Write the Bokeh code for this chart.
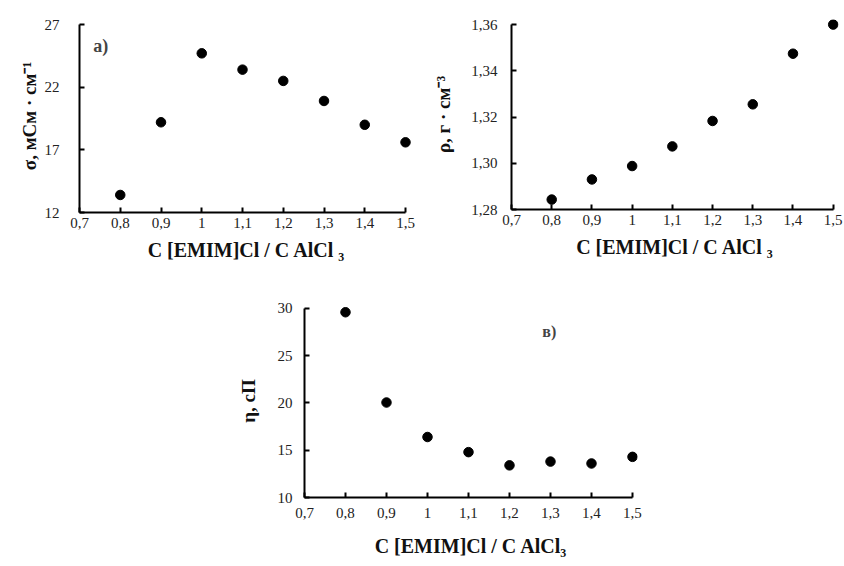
from bokeh.plotting import figure
from bokeh.models import Range1d, FixedTicker, Label, Spacer
from bokeh.layouts import row, column
from bokeh.embed import file_html
from bokeh.resources import INLINE

# ---- data ----
ratio = [0.8, 0.9, 1.0, 1.1, 1.2, 1.3, 1.4, 1.5]
sigma = [13.4, 19.2, 24.7, 23.4, 22.5, 20.9, 19.0, 17.6]
rho = [1.2843, 1.2930, 1.2988, 1.3073, 1.3183, 1.3255, 1.3474, 1.3600]
eta = [29.6, 20.05, 16.4, 14.8, 13.4, 13.8, 13.6, 14.3]

x_ticks = [0.7, 0.8, 0.9, 1.0, 1.1, 1.2, 1.3, 1.4, 1.5]
x_tick_labels = ["0,7", "0,8", "0,9", "1", "1,1", "1,2", "1,3", "1,4", "1,5"]
sigma_ticks = [12, 17, 22, 27]
sigma_tick_labels = ["12", "17", "22", "27"]
rho_ticks = [1.28, 1.30, 1.32, 1.34, 1.36]
rho_tick_labels = ["1,28", "1,30", "1,32", "1,34", "1,36"]
eta_ticks = [10, 15, 20, 25, 30]
eta_tick_labels = ["10", "15", "20", "25", "30"]

FONT = "Liberation Serif"


def make_fig(xr, yr, fw, fh, bl, bt, br, bb):
    p = figure(x_range=xr, y_range=yr, frame_width=fw, frame_height=fh,
               min_border_left=bl, min_border_top=bt, min_border_right=br,
               min_border_bottom=bb, output_backend="svg", toolbar_location=None)
    p.outline_line_color = None
    p.grid.visible = False
    p.background_fill_color = "white"
    p.border_fill_color = "white"
    for ax in (p.xaxis[0], p.yaxis[0]):
        ax.axis_line_width = 2
        ax.axis_line_color = "black"
        ax.major_tick_in = 5
        ax.major_tick_out = 0
        ax.major_tick_line_width = 2
        ax.major_tick_line_color = "black"
        ax.minor_tick_line_color = None
        ax.major_label_text_font = FONT
        ax.major_label_text_font_size = "15px"
        ax.major_label_text_color = "#222222"
        ax.axis_label_text_font = FONT
        ax.axis_label_text_font_style = "bold"
        ax.axis_label_text_color = "#111111"
    p.xaxis.axis_label_text_font_size = "20px"
    p.yaxis.axis_label_text_font_size = "19px"
    p.xaxis.ticker = FixedTicker(ticks=x_ticks)
    p.xaxis.major_label_overrides = dict(zip(x_ticks, x_tick_labels))
    p.xaxis.bounds = (x_ticks[0], x_ticks[-1])
    return p


# a) conductivity
p1 = make_fig(Range1d(0.7, 1.5196), Range1d(12, 27.4), 334, 193, 79, 16, 17, 71)
p1.scatter(ratio, sigma, size=9.5, color="black")
p1.yaxis.ticker = FixedTicker(ticks=sigma_ticks)
p1.yaxis.major_label_overrides = dict(zip(sigma_ticks, sigma_tick_labels))
p1.yaxis.bounds = (sigma_ticks[0], sigma_ticks[-1])
p1.yaxis.axis_label = "σ, мСм · см⁻¹"
p1.yaxis.major_label_standoff = 20
p1.yaxis.axis_label_standoff = 2
p1.xaxis.axis_label = "C [EMIM]Cl / C AlCl ₃"
p1.xaxis.major_label_standoff = 5
p1.xaxis.axis_label_standoff = 8
p1.add_layout(Label(x=0.734, y=25.3, text="а)", text_font=FONT, text_font_size="18px",
                    text_font_style="bold", text_baseline="middle", text_align="left"))

# b) density
p2 = make_fig(Range1d(0.7, 1.5132), Range1d(1.28, 1.3622), 327, 190, 81, 19, 6, 71)
p2.scatter(ratio, rho, size=9.5, color="black")
p2.yaxis.ticker = FixedTicker(ticks=rho_ticks)
p2.yaxis.major_label_overrides = dict(zip(rho_ticks, rho_tick_labels))
p2.yaxis.bounds = (rho_ticks[0], rho_ticks[-1])
p2.yaxis.axis_label = "ρ, г · см⁻³"
p2.yaxis.major_label_standoff = 14
p2.yaxis.axis_label_standoff = 14
p2.xaxis.axis_label = "C [EMIM]Cl / C AlCl ₃"
p2.xaxis.major_label_standoff = 5
p2.xaxis.axis_label_standoff = 8

# в) viscosity
p3 = make_fig(Range1d(0.7, 1.5122), Range1d(10, 30.42), 333, 193, 74, 24, 10, 68)
p3.scatter(ratio, eta, size=9.5, color="black")
p3.yaxis.ticker = FixedTicker(ticks=eta_ticks)
p3.yaxis.major_label_overrides = dict(zip(eta_ticks, eta_tick_labels))
p3.yaxis.bounds = (eta_ticks[0], eta_ticks[-1])
p3.yaxis.axis_label = "η, сП"
p3.yaxis.major_label_standoff = 12
p3.yaxis.axis_label_standoff = 16
p3.xaxis.axis_label = "C [EMIM]Cl / C AlCl₃"
p3.xaxis.major_label_standoff = 10
p3.xaxis.axis_label_standoff = 14
p3.add_layout(Label(x=1.28, y=27.57, text="в)", text_font=FONT, text_font_size="16px",
                    text_font_style="bold", text_baseline="middle", text_align="left"))

layout = column(row(p1, p2), row(Spacer(width=230, height=10), p3))

open("out.html", "w").write(file_html(layout, INLINE))
